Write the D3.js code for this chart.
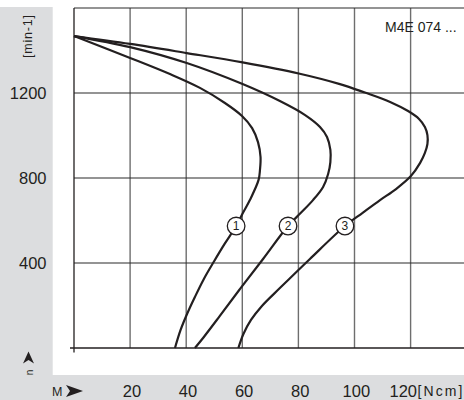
<!DOCTYPE html>
<html>
<head>
<meta charset="utf-8">
<script src="https://cdn.jsdelivr.net/npm/d3@7"></script>
<style>
html,body{margin:0;padding:0;background:#fff;}
svg{display:block;}
text{font-family:"Liberation Sans",Arial,Helvetica,sans-serif;fill:#231f20;}
</style>
</head>
<body>
<svg id="chart" width="464" height="400"></svg>
<script>
// ---- data ----
const speedTicks = [400, 800, 1200];
const torqueTicks = [20, 40, 60, 80, 100, 120];
const gridSpeeds = [400, 800, 1200, 1600];
const gridTorques = [20, 40, 60, 80, 100, 120];
const curveNames = ["1", "2", "3"];
// [torque Ncm, speed min-1]
const curve1 = [[0,1468],[20,1365],[34.2,1289],[44.9,1224],[53.8,1153],[59.9,1092],[63.5,1035],[65.6,969],[66.5,899],[66.3,838],[65.8,791],[62.7,696],[60.2,635],[57.8,574],[53.8,492],[49.9,407],[46.3,325],[43.1,240],[40.3,160],[38,85],[36,0]];
const curve2 = [[0,1468],[20,1416],[40.2,1341],[60.1,1242],[73.4,1162],[82.4,1096],[87.7,1040],[90.2,993],[91.4,932],[91.4,875],[90.6,819],[88.8,758],[85.2,696],[80.8,635],[76.3,574],[67.4,419],[59.2,278],[52,151],[46.3,52],[43.1,0]];
const curve3 = [[0,1468],[20,1431],[40.2,1388],[60.1,1344],[80.1,1292],[94.8,1242],[103.7,1202],[112.7,1158],[119.1,1115],[123,1078],[125.1,1040],[126,1002],[126,960],[125.1,918],[123.4,871],[120.1,809],[114.8,748],[109.1,696],[102.9,636],[96.6,574],[84.1,419],[73.4,282],[67,198],[63.1,132],[60.4,66],[58.6,0]];
const curves = [curve1, curve2, curve3];
const labelPoints = [[57.8,574],[76.3,574],[96.6,574]];

// ---- scales ----
const x = d3.scaleLinear().domain([0, 120]).range([74, 410.6]);
const y = d3.scaleLinear().domain([0, 1600]).range([348, 8]);

const svg = d3.select("#chart");
const ink = "#231f20";

// background panels
svg.append("rect").attr("x",0).attr("y",7).attr("width",52.7).attr("height",393).attr("fill","#dcdddf");
svg.append("rect").attr("x",0).attr("y",375).attr("width",464).attr("height",25).attr("fill","#dcdddf");

// grid
svg.append("g").selectAll("line").data(gridTorques).join("line")
  .attr("x1", d => x(d)).attr("x2", d => x(d))
  .attr("y1", y(1600)).attr("y2", y(0))
  .attr("stroke", "#6e6e6e").attr("stroke-width", 1.4);
svg.append("g").selectAll("line").data(gridSpeeds).join("line")
  .attr("x1", x(0)).attr("x2", 464)
  .attr("y1", d => y(d)).attr("y2", d => y(d))
  .attr("stroke", "#2b2b2b").attr("stroke-width", 1.2);

// frame / axes
svg.append("line").attr("x1", x(0)).attr("x2", x(0)).attr("y1", y(1600)).attr("y2", y(0) + 4.5)
  .attr("stroke", ink).attr("stroke-width", 1.3);
svg.append("line").attr("x1", x(0) - 4).attr("x2", 464).attr("y1", y(0)).attr("y2", y(0))
  .attr("stroke", ink).attr("stroke-width", 1.3);

// curves
const line = d3.line().x(d => x(d[0])).y(d => y(d[1])).curve(d3.curveCatmullRom.alpha(0.5));
svg.append("g").selectAll("path").data(curves).join("path")
  .attr("d", line).attr("fill", "none").attr("stroke", ink).attr("stroke-width", 2.2)
  .attr("stroke-linejoin", "round");

// curve labels
const lg = svg.append("g").selectAll("g").data(labelPoints).join("g")
  .attr("transform", d => `translate(${x(d[0])},${y(d[1])})`);
lg.append("circle").attr("r", 8.8).attr("fill", "#fff").attr("stroke", ink).attr("stroke-width", 1.3);
lg.append("text").attr("text-anchor", "middle").attr("y", 4.2).attr("font-size", 12)
  .text((d, i) => curveNames[i]);

// y tick labels
svg.append("g").selectAll("text").data(speedTicks).join("text")
  .attr("x", 46.5).attr("y", d => y(d) + 6).attr("text-anchor", "end").attr("font-size", 16.5)
  .text(d => d);

// x tick labels
svg.append("g").selectAll("text").data(torqueTicks).join("text")
  .attr("x", d => d === 120 ? 417 : x(d) + 1.8)
  .attr("y", 396.5)
  .attr("text-anchor", d => d === 120 ? "end" : "middle")
  .attr("font-size", 16.5)
  .text(d => d);

// units
svg.append("text").attr("x", 417.5).attr("y", 396).attr("font-size", 14)
  .attr("textLength", 45).attr("lengthAdjust", "spacing").text("[Ncm]");
svg.append("text").attr("transform", "translate(32,36.5) rotate(-90)")
  .attr("text-anchor", "middle").attr("font-size", 12.5)
  .attr("textLength", 43).attr("lengthAdjust", "spacing").text("[min-1]");

// axis names and arrows
svg.append("text").attr("x", 52).attr("y", 395.5).attr("font-size", 12.5).text("M");
svg.append("path").attr("d", "M66,385 L83,391 L66,397 L70,391 Z").attr("fill", ink);
svg.append("path").attr("d", "M28.5,351.5 L34,363.5 L28.5,360 L23,363.5 Z").attr("fill", ink);
svg.append("text").attr("transform", "translate(32.5,372.5) rotate(-90)")
  .attr("text-anchor", "middle").attr("font-size", 10).text("n");

// model label
svg.append("text").attr("x", 385).attr("y", 32).attr("font-size", 14).text("M4E 074 ...");
</script>
</body>
</html>
